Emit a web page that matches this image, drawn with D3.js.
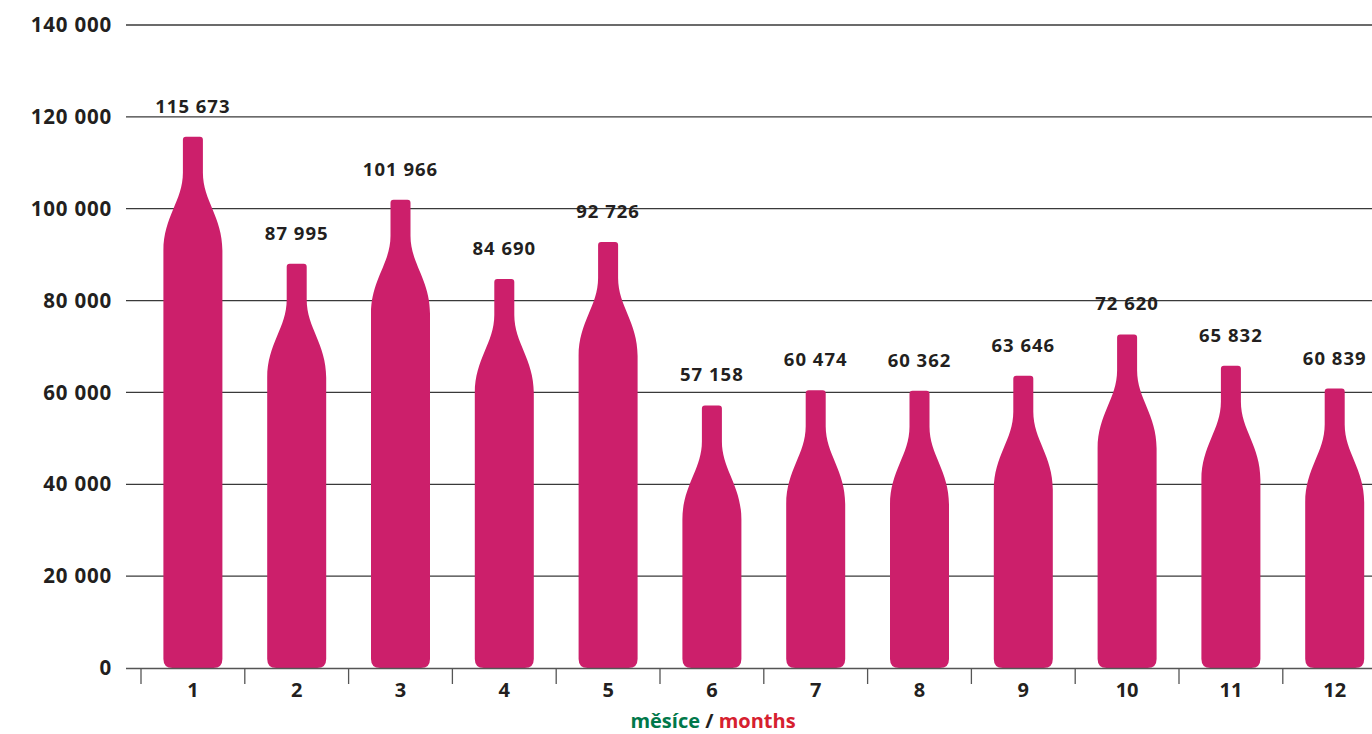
<!DOCTYPE html>
<html>
<head>
<meta charset="utf-8">
<script src="https://cdn.jsdelivr.net/npm/d3@7"></script>
<style>
  html, body { margin: 0; padding: 0; background: #fff; }
  svg { display: block; }
  text { font-family: "Open Sans", sans-serif; font-weight: 700; fill: #231f20; }
</style>
</head>
<body>
<svg id="chart" width="1372" height="734"></svg>
<script>
const months = ["1","2","3","4","5","6","7","8","9","10","11","12"];
const values = [115673, 87995, 101966, 84690, 92726, 57158, 60474, 60362, 63646, 72620, 65832, 60839];
const yTicks = [0, 20000, 40000, 60000, 80000, 100000, 120000, 140000];
const axisTitleParts = [
  { text: "měsíce", color: "#00784a" },
  { text: " / ", color: "#231f20" },
  { text: "months", color: "#d6202f" }
];

const W = 1372, H = 734;
const svg = d3.select("#chart");
const fmt = d3.formatLocale({ decimal: ",", thousands: " ", grouping: [3], currency: ["", ""] }).format(",d");

const y = d3.scaleLinear().domain([0, 140000]).range([668, 25]);
const step = 103.8;
const x = d3.scaleBand().domain(months).range([141, 141 + step * months.length]).padding(0);

// gridlines
svg.append("g").selectAll("line").data(yTicks.filter(d => d > 0)).join("line")
  .attr("x1", 126).attr("x2", W)
  .attr("y1", d => y(d)).attr("y2", d => y(d))
  .attr("stroke", "#3a3a3a").attr("stroke-width", 1.3);

// y labels
svg.append("g").selectAll("text").data(yTicks).join("text")
  .attr("x", 112).attr("y", d => y(d))
  .attr("text-anchor", "end").attr("dy", "0.35em")
  .attr("font-size", 20.5).attr("letter-spacing", 0.8)
  .text(d => fmt(d));

// bottles
const bw = 59, halfW = bw / 2, neck = 10;
function bottlePath(cx, yTop, yBot) {
  const r = 3, rb = 9;
  const p = d3.path();
  p.moveTo(cx - neck + r, yTop);
  p.lineTo(cx + neck - r, yTop);
  p.quadraticCurveTo(cx + neck, yTop, cx + neck, yTop + r);
  p.lineTo(cx + neck, yTop + 36);
  p.bezierCurveTo(cx + neck, yTop + 64, cx + halfW, yTop + 80, cx + halfW, yTop + 114);
  p.lineTo(cx + halfW, yBot - rb);
  p.quadraticCurveTo(cx + halfW, yBot, cx + halfW - rb, yBot);
  p.lineTo(cx - halfW + rb, yBot);
  p.quadraticCurveTo(cx - halfW, yBot, cx - halfW, yBot - rb);
  p.lineTo(cx - halfW, yTop + 114);
  p.bezierCurveTo(cx - halfW, yTop + 80, cx - neck, yTop + 64, cx - neck, yTop + 36);
  p.lineTo(cx - neck, yTop + r);
  p.quadraticCurveTo(cx - neck, yTop, cx - neck + r, yTop);
  p.closePath();
  return p.toString();
}
const data = months.map((m, i) => ({ m, v: values[i] }));
svg.append("g").selectAll("path").data(data).join("path")
  .attr("d", d => bottlePath(x(d.m) + x.bandwidth() / 2, y(d.v), y(0)))
  .attr("fill", "#cc1f6b");

// value labels
svg.append("g").selectAll("text").data(data).join("text")
  .attr("x", d => x(d.m) + x.bandwidth() / 2)
  .attr("y", d => y(d.v) - 24)
  .attr("text-anchor", "middle")
  .attr("font-size", 18.5).attr("letter-spacing", 1)
  .text(d => fmt(d.v));

// x axis
const xAxis = svg.append("g");
xAxis.append("line").attr("x1", 126).attr("x2", W).attr("y1", y(0) + 0.5).attr("y2", y(0) + 0.5)
  .attr("stroke", "#555").attr("stroke-width", 1.5);
xAxis.selectAll("line.tick").data(months).join("line").attr("class", "tick")
  .attr("x1", d => x(d)).attr("x2", d => x(d))
  .attr("y1", y(0)).attr("y2", y(0) + 16)
  .attr("stroke", "#555").attr("stroke-width", 1.3);
xAxis.selectAll("text").data(months).join("text")
  .attr("x", d => x(d) + x.bandwidth() / 2)
  .attr("y", 697)
  .attr("text-anchor", "middle")
  .attr("font-size", 20)
  .text(d => d);

// axis title
const t = svg.append("text").attr("x", 713).attr("y", 728).attr("text-anchor", "middle").attr("font-size", 20);
axisTitleParts.forEach(p => t.append("tspan").style("fill", p.color).text(p.text));
</script>
</body>
</html>
